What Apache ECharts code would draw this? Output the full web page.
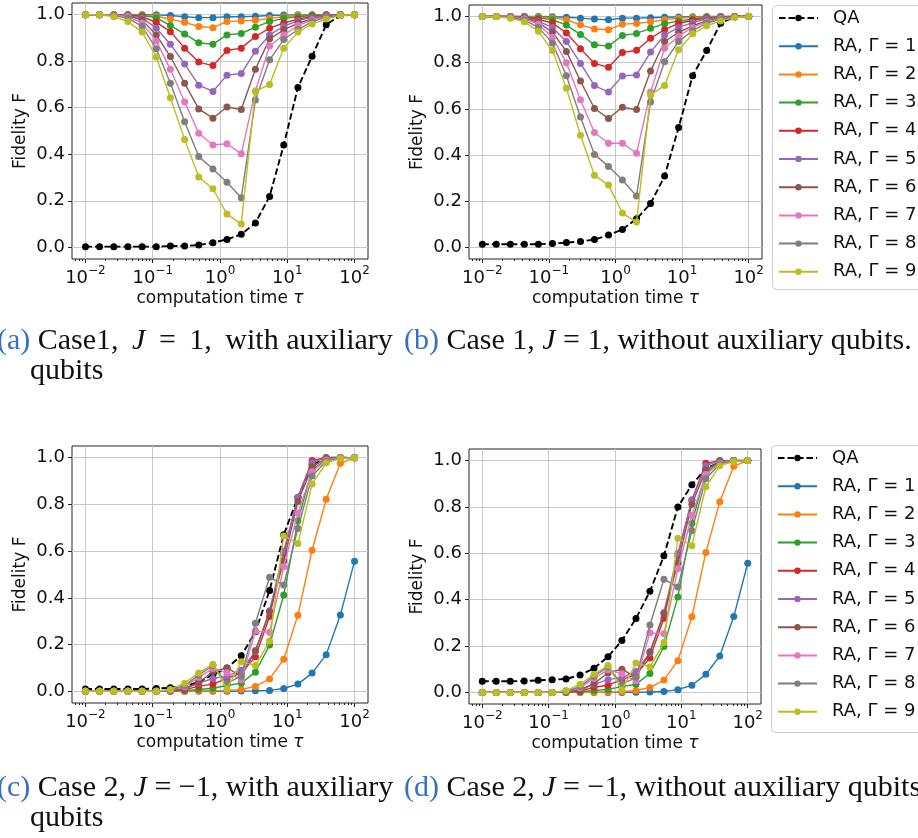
<!DOCTYPE html>
<html>
<head>
<meta charset="utf-8">
<script src="https://cdn.jsdelivr.net/npm/echarts@6/dist/echarts.min.js"></script>
<style>
  html, body { margin: 0; padding: 0; background: #fff; }
  #chart { width: 918px; height: 838px; }
</style>
</head>
<body>
<div id="chart"></div>
<script>
// computation time tau (log spaced sample points)
var tau = [0.01, 0.0162, 0.0264, 0.0428, 0.0695, 0.113, 0.183, 0.298, 0.483, 0.785,
           1.27, 2.07, 3.36, 5.46, 8.86, 14.4, 23.4, 37.9, 61.6, 100];
var xTicks = [0.01, 0.1, 1, 10, 100];
var yTicks = [0, 0.2, 0.4, 0.6, 0.8, 1.0];
var names = ['QA', 'RA, Γ = 1', 'RA, Γ = 2', 'RA, Γ = 3', 'RA, Γ = 4', 'RA, Γ = 5',
             'RA, Γ = 6', 'RA, Γ = 7', 'RA, Γ = 8', 'RA, Γ = 9'];
var colors = ['#000000', '#1f77b4', '#ff7f0e', '#2ca02c', '#d62728', '#9467bd',
              '#8c564b', '#e377c2', '#7f7f7f', '#bcbd22'];

// (a) case 1, with auxiliary qubits
var qaA  = [0.003,0.003,0.003,0.003,0.003,0.003,0.006,0.006,0.010,0.020,0.034,0.056,0.105,0.219,0.440,0.687,0.821,0.957,0.996,1.0];
var ra1A = [1,1,1,1,1,0.999,0.996,0.991,0.987,0.987,0.991,0.991,0.993,0.996,0.998,0.999,1,1,1,1];
var ra2A = [1,1,1,1,0.998,0.993,0.981,0.967,0.949,0.944,0.970,0.973,0.976,0.984,0.991,0.996,0.998,1,1,1];
var ra3A = [1,1,1,0.999,0.996,0.987,0.953,0.917,0.879,0.873,0.913,0.919,0.946,0.970,0.984,0.991,0.996,0.999,1,1];
var ra4A = [1,1,1,0.998,0.991,0.967,0.927,0.856,0.796,0.781,0.846,0.856,0.906,0.942,0.964,0.981,0.991,0.997,1,1];
var ra5A = [1,1,1,0.997,0.986,0.942,0.873,0.788,0.697,0.670,0.740,0.747,0.843,0.913,0.950,0.974,0.988,0.996,1,1];
var ra6A = [1,1,0.999,0.995,0.977,0.913,0.820,0.705,0.595,0.555,0.603,0.592,0.765,0.896,0.934,0.964,0.981,0.993,1,1];
var ra7A = [1,1,0.998,0.992,0.964,0.887,0.765,0.625,0.490,0.440,0.445,0.402,0.672,0.865,0.913,0.953,0.978,0.990,0.998,1];
var ra8A = [1,1,0.996,0.985,0.950,0.853,0.705,0.540,0.390,0.337,0.280,0.213,0.633,0.806,0.893,0.936,0.970,0.988,0.998,1];
var ra9A = [1,1,0.991,0.970,0.925,0.818,0.643,0.464,0.302,0.252,0.143,0.100,0.670,0.700,0.856,0.925,0.960,0.981,0.996,1];

// (b) case 1, without auxiliary qubits
var qaB  = [0.014,0.014,0.014,0.014,0.014,0.017,0.021,0.026,0.034,0.054,0.078,0.124,0.190,0.309,0.519,0.744,0.853,0.971,1.0,1.0];
var ra1B = [1,1,1,1,1,0.999,0.997,0.993,0.989,0.986,0.993,0.993,0.995,0.997,0.998,0.999,1,1,1,1];
var ra2B = [1,1,1,1,0.998,0.994,0.986,0.964,0.946,0.943,0.967,0.970,0.977,0.986,0.993,0.996,0.998,1,1,1];
var ra3B = [1,1,1,0.999,0.994,0.986,0.963,0.922,0.878,0.872,0.918,0.927,0.949,0.969,0.981,0.989,0.996,0.999,1,1];
var ra4B = [1,1,1,0.998,0.987,0.972,0.929,0.861,0.797,0.780,0.844,0.854,0.906,0.943,0.970,0.984,0.993,0.998,1,1];
var ra5B = [1,1,1,0.997,0.979,0.953,0.892,0.797,0.701,0.673,0.743,0.747,0.846,0.920,0.953,0.974,0.989,0.997,1,1];
var ra6B = [1,1,0.999,0.994,0.974,0.932,0.849,0.721,0.602,0.559,0.607,0.597,0.764,0.892,0.932,0.960,0.981,0.994,1,1];
var ra7B = [1,1,0.998,0.990,0.967,0.910,0.800,0.640,0.498,0.451,0.451,0.408,0.673,0.863,0.915,0.953,0.977,0.991,0.998,1];
var ra8B = [1,1,0.996,0.985,0.953,0.885,0.744,0.565,0.403,0.351,0.292,0.223,0.630,0.804,0.892,0.939,0.972,0.988,0.998,1];
var ra9B = [1,0.999,0.993,0.977,0.936,0.853,0.690,0.486,0.313,0.270,0.149,0.110,0.661,0.701,0.856,0.925,0.960,0.981,0.996,1];

// (c)/(d) case 2 -- the RA curves look the same in both panels, only QA differs
var qaC  = [0.010,0.010,0.010,0.010,0.010,0.012,0.015,0.022,0.040,0.070,0.100,0.152,0.255,0.432,0.670,0.830,0.970,1,1,1];
var qaD  = [0.048,0.048,0.048,0.049,0.052,0.055,0.058,0.075,0.104,0.154,0.224,0.319,0.436,0.589,0.800,0.896,0.965,0.994,1,1];
var ra1C = [0,0,0,0,0,0,0,0,0,0,0,0.001,0.002,0.004,0.012,0.031,0.078,0.157,0.327,0.557];
var ra2C = [0,0,0,0,0,0,0,0,0.001,0.002,0.003,0.008,0.021,0.053,0.137,0.326,0.604,0.822,0.976,1.0];
var ra3C = [0,0,0,0,0,0,0.001,0.003,0.008,0.013,0.025,0.035,0.082,0.198,0.412,0.730,0.950,0.990,1,1];
var ra4C = [0,0,0,0,0,0,0.002,0.006,0.022,0.031,0.055,0.078,0.148,0.320,0.590,0.830,0.988,1,1,1];
var ra5C = [0,0,0,0,0,0,0.003,0.010,0.035,0.055,0.065,0.090,0.170,0.345,0.600,0.830,0.978,1,1,1];
var ra6C = [0,0,0,0,0,0,0.003,0.012,0.038,0.085,0.100,0.065,0.175,0.339,0.558,0.812,0.960,0.997,1,1];
var ra7C = [0,0,0,0,0,0,0.005,0.020,0.060,0.098,0.080,0.050,0.257,0.253,0.533,0.763,0.940,0.990,1,1];
var ra8C = [0,0,0,0,0,0,0.005,0.025,0.070,0.110,0.035,0.065,0.291,0.488,0.455,0.697,0.922,0.985,1,1];
var ra9C = [0,0,0,0,0,0,0.008,0.035,0.078,0.116,0.010,0.127,0.110,0.215,0.665,0.633,0.887,0.978,0.996,1];

var panels = [
  { grid: { left: 72, top: 3, width: 296, height: 256 },
    lines: [qaA, ra1A, ra2A, ra3A, ra4A, ra5A, ra6A, ra7A, ra8A, ra9A] },
  { grid: { left: 469, top: 5, width: 293, height: 254 },
    lines: [qaB, ra1B, ra2B, ra3B, ra4B, ra5B, ra6B, ra7B, ra8B, ra9B] },
  { grid: { left: 72, top: 446, width: 296, height: 257 },
    lines: [qaC, ra1C, ra2C, ra3C, ra4C, ra5C, ra6C, ra7C, ra8C, ra9C] },
  { grid: { left: 469, top: 449, width: 292, height: 255 },
    lines: [qaD, ra1C, ra2C, ra3C, ra4C, ra5C, ra6C, ra7C, ra8C, ra9C] }
];

var FONT = 'DejaVu Sans';
var xMin = Math.pow(10, -2.2), xMax = Math.pow(10, 2.2);

// minor log ticks
var minorTicks = [];
for (var k = -3; k <= 2; k++) {
  for (var m = 2; m <= 9; m++) {
    var v = m * Math.pow(10, k);
    if (v > xMin && v < xMax) minorTicks.push(v);
  }
}

function logLabel(v) {
  var e = Math.round(Math.log10(v));
  return '{b|10}{s|' + (e < 0 ? '\u2212' : '') + Math.abs(e) + '}';
}

var grids = [], xAxes = [], yAxes = [], series = [];

panels.forEach(function (p, g) {
  grids.push({
    left: p.grid.left, top: p.grid.top, width: p.grid.width, height: p.grid.height,
    show: true, borderColor: '#222', borderWidth: 1, containLabel: false
  });
  xAxes.push({
    type: 'log', logBase: 10, gridIndex: g, min: xMin, max: xMax, position: 'bottom',
    name: '{n|computation time }{t|τ}', nameLocation: 'middle', nameGap: 31,
    nameTextStyle: {
      rich: {
        n: { fontFamily: FONT, fontSize: 17, color: '#111' },
        t: { fontFamily: FONT, fontSize: 17, color: '#111', fontStyle: 'italic' }
      }
    },
    axisLine: { show: false, onZero: false },
    axisTick: { show: true, length: 4, inside: false, customValues: xTicks, lineStyle: { color: '#222' } },
    axisLabel: {
      customValues: xTicks, margin: 6, formatter: logLabel,
      rich: {
        b: { fontFamily: FONT, fontSize: 18, color: '#111', verticalAlign: 'bottom', lineHeight: 22 },
        s: { fontFamily: FONT, fontSize: 12, color: '#111', verticalAlign: 'bottom', padding: [0, 0, 10, 0] }
      }
    },
    splitLine: { show: true, lineStyle: { color: '#c8c8c8', width: 1 } }
  });
  xAxes.push({
    type: 'log', logBase: 10, gridIndex: g, min: xMin, max: xMax, position: 'bottom',
    axisLine: { show: false, onZero: false },
    axisTick: { show: true, length: 2, inside: false, customValues: minorTicks, lineStyle: { color: '#222' } },
    axisLabel: { show: false },
    splitLine: { show: false }
  });
  yAxes.push({
    type: 'value', gridIndex: g, min: -0.05, max: 1.05,
    name: 'Fidelity F', nameLocation: 'middle', nameGap: 43,
    nameTextStyle: { fontFamily: FONT, fontSize: 17, color: '#111' },
    axisLine: { show: false, onZero: false },
    axisTick: { show: true, length: 4, customValues: yTicks, lineStyle: { color: '#222' } },
    axisLabel: {
      customValues: yTicks, margin: 7, fontFamily: FONT, fontSize: 18, color: '#111',
      formatter: function (v) { return v.toFixed(1); }
    },
    splitLine: { show: true, lineStyle: { color: '#c8c8c8', width: 1 } }
  });
  p.lines.forEach(function (vals, i) {
    series.push({
      type: 'line', name: names[i], xAxisIndex: 2 * g, yAxisIndex: g,
      data: tau.map(function (t, j) { return [t, vals[j]]; }),
      symbol: 'circle', symbolSize: 7, showAllSymbol: true,
      lineStyle: { color: colors[i], width: i === 0 ? 1.9 : 1.4, type: i === 0 ? [6.5, 3] : 'solid' },
      itemStyle: { color: colors[i] },
      emphasis: { disabled: true },
      z: 2 + i
    });
  });
});

// legend frame is drawn separately so it can run off the right edge like the original
function legendAt(left, top) {
  return {
    orient: 'vertical', left: left, top: top, data: names,
    itemWidth: 39, itemHeight: 8, itemGap: 10.2,
    padding: [4, 0, 9, 6],
    textStyle: { fontFamily: FONT, fontSize: 18, color: '#111', lineHeight: 18, padding: [0, 0, 0, 10] },
    selectedMode: false
  };
}
function legendFrame(x, y, h) {
  return {
    type: 'rect', z: 1, silent: true,
    shape: { x: x, y: y, width: 200, height: h, r: 4 },
    style: { fill: '#fff', stroke: '#d0d0d0', lineWidth: 1 }
  };
}

var capFont = 'Liberation Serif', capSize = 30;
var capRich = {
  l: { fontFamily: capFont, fontSize: capSize, fill: '#3570c2' },
  i: { fontFamily: capFont, fontSize: capSize, fill: '#111', fontStyle: 'italic' },
  r: { fontFamily: capFont, fontSize: capSize, fill: '#111' }
};
function caption(x, y, text) {
  return {
    type: 'text', x: x, y: y, z: 100,
    style: { text: text, rich: capRich, fontFamily: capFont, fontSize: capSize, fill: '#111',
             align: 'left', verticalAlign: 'middle' }
  };
}

var chart = echarts.init(document.getElementById('chart'), null, { renderer: 'canvas' });
chart.setOption({
  animation: false,
  backgroundColor: '#ffffff',
  grid: grids,
  xAxis: xAxes,
  yAxis: yAxes,
  legend: [legendAt(772, 5), legendAt(771, 445)],
  series: series,
  graphic: [
    legendFrame(772.5, 5.5, 284),
    legendFrame(771.5, 445.5, 287),
    caption(-3, 341, '{l|(a)}{r| Case1, \u2009}{i|J}{r| \u2009= \u20091, \u2009with auxiliary}'),
    caption(30, 371, '{r|qubits}'),
    caption(404, 341, '{l|(b)}{r| Case 1, }{i|J}{r| = 1, without auxiliary qubits.}'),
    caption(-3, 788, '{l|(c)}{r| Case 2, }{i|J}{r| = \u22121, with auxiliary}'),
    caption(30, 818, '{r|qubits}'),
    caption(404, 788, '{l|(d)}{r| Case 2, }{i|J}{r| = \u22121, without auxiliary qubits}')
  ]
});
</script>
</body>
</html>
